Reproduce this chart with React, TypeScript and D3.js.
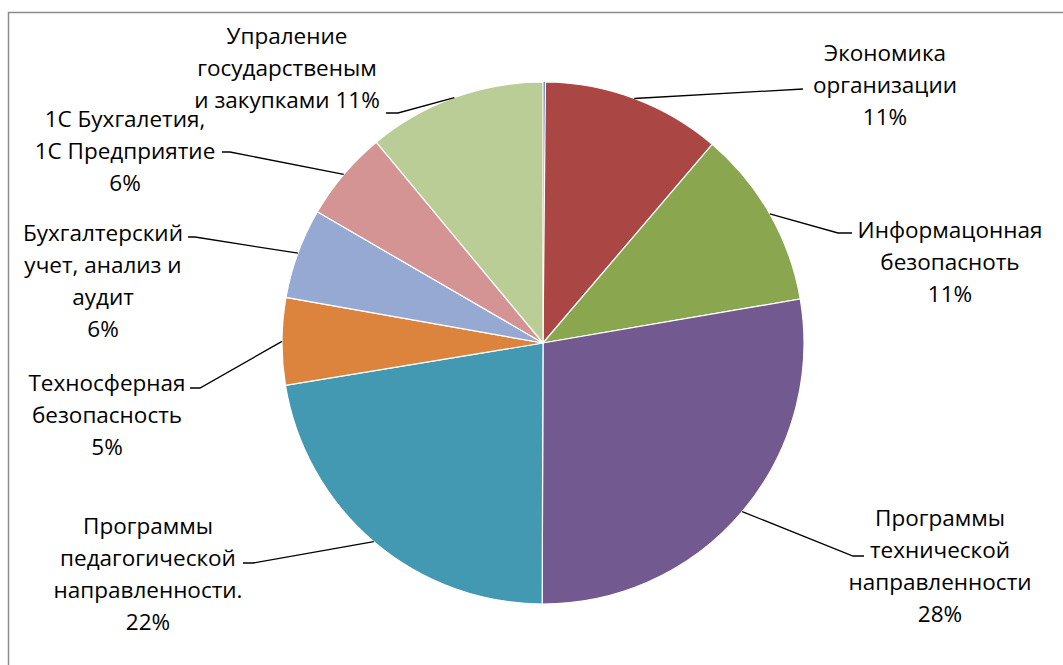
import React from 'react';
import * as d3 from 'd3';

// slice names (clockwise from 12 o'clock), first one is the thin blue sliver without a label
const categories = [
  '',
  'Экономика\nорганизации',
  'Информацонная\nбезопасноть',
  'Программы\nтехнической\nнаправленности',
  'Программы\nпедагогической\nнаправленности.',
  'Техносферная\nбезопасность',
  'Бухгалтерский\nучет, анализ и\nаудит',
  '1С Бухгалетия,\n1С Предприятие',
  'Упраление\nгосударственым\nи закупками',
];
const values = [0.15, 11.1, 11.1, 27.8, 22.4, 5.4, 5.6, 5.6, 11.05];
const colors = ['#4F81BD', '#AA4745', '#8AA64F', '#72598F', '#4399B1', '#DC843D', '#95A9D2', '#D49493', '#BACD96'];

// label placement: text centre x, first line centre y, elbow point and end of leader line
const labelLayout = [
  null,
  { x: 885, y: 52, elbow: [803, 89], end: [803, 89], pctInline: false },
  { x: 950, y: 229, elbow: [838, 233], end: [852, 233], pctInline: false },
  { x: 940, y: 517, elbow: [853, 556], end: [864, 556], pctInline: false },
  { x: 148, y: 525, elbow: [253, 563], end: [243, 563], pctInline: false },
  { x: 107, y: 382, elbow: [200, 388], end: [190, 388], pctInline: false },
  { x: 103, y: 232, elbow: [195, 237], end: [188, 237], pctInline: false },
  { x: 125, y: 118, elbow: [230, 152], end: [222, 152], pctInline: false },
  { x: 287, y: 35, elbow: [398, 113], end: [386, 113], pctInline: true },
];

const W = 1063;
const H = 665;
const cx = 543;
const cy = 343;
const R = 261;
const lineH = 32;

export default function App() {
  const total = d3.sum(values);
  const pie = d3.pie<number>().sort(null).value((d) => d)(values);
  const arc = d3.arc<d3.PieArcDatum<number>>().innerRadius(0).outerRadius(R);
  const edge = d3.arc<d3.PieArcDatum<number>>().innerRadius(R).outerRadius(R);

  return (
    <div style={{ position: 'absolute', left: 0, top: 0 }}>
      <svg width={W} height={H} style={{ display: 'block', fontFamily: "'Open Sans', sans-serif" }}>
        <rect x={0} y={0} width={W} height={H} fill="#fff" />
        <rect x={8.5} y={12.5} width={W + 20} height={H + 20} fill="none" stroke="#8c8c8c" strokeWidth={1.5} />
        <g transform={`translate(${cx},${cy})`}>
          {pie.map((p, i) => (
            <path key={i} d={arc(p) || ''} fill={colors[i]} stroke="#fff" strokeWidth={i === 0 ? 0 : 1.2} />
          ))}
        </g>
        {pie.map((p, i) => {
          const lay = labelLayout[i];
          if (!lay) return null;
          const [sx, sy] = edge.centroid(p);
          const pct = Math.round((values[i] / total) * 100) + '%';
          const lines = categories[i].split('\n');
          if (lay.pctInline) lines[lines.length - 1] += ' ' + pct;
          else lines.push(pct);
          return (
            <g key={i}>
              <polyline
                points={`${cx + sx},${cy + sy} ${lay.elbow[0]},${lay.elbow[1]} ${lay.end[0]},${lay.end[1]}`}
                fill="none"
                stroke="#000"
                strokeWidth={1.3}
              />
              <text x={lay.x} textAnchor="middle" fontSize={22.5} fill="#000">
                {lines.map((t, j) => (
                  <tspan key={j} x={lay.x} y={lay.y + j * lineH} dominantBaseline="central">
                    {t}
                  </tspan>
                ))}
              </text>
            </g>
          );
        })}
      </svg>
    </div>
  );
}
